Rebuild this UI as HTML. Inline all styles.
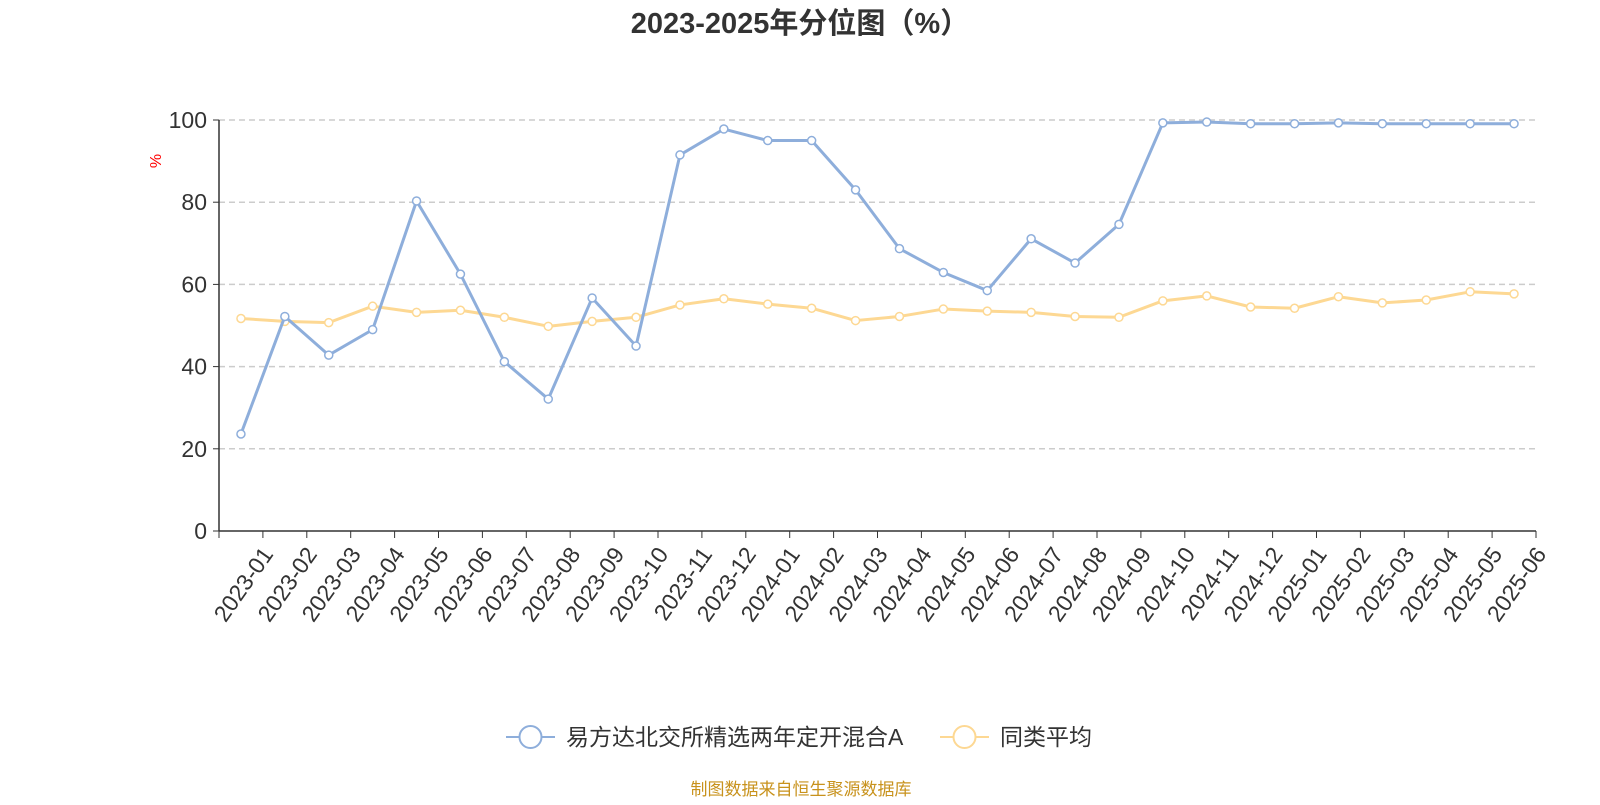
<!DOCTYPE html>
<html><head><meta charset="utf-8"><style>
body{margin:0;background:#fff;font-family:"Liberation Sans","Noto Sans CJK SC",sans-serif}
</style></head><body>
<svg id="c" width="1600" height="800" xmlns="http://www.w3.org/2000/svg"></svg>
<script>
const categories=["2023-01","2023-02","2023-03","2023-04","2023-05","2023-06","2023-07","2023-08","2023-09","2023-10","2023-11","2023-12","2024-01","2024-02","2024-03","2024-04","2024-05","2024-06","2024-07","2024-08","2024-09","2024-10","2024-11","2024-12","2025-01","2025-02","2025-03","2025-04","2025-05","2025-06"];
const fundValues=[23.6,52.2,42.8,49,80.3,62.5,41.2,32.1,56.7,45,91.5,97.8,95,95,83,68.7,62.9,58.5,71.1,65.2,74.6,99.3,99.5,99.1,99.1,99.3,99.1,99.1,99.1,99.1];
const avgValues=[51.7,51,50.7,54.7,53.2,53.7,52,49.8,51,52,55,56.5,55.2,54.2,51.2,52.2,54,53.5,53.2,52.2,52,56,57.2,54.5,54.2,57,55.5,56.2,58.2,57.7];
const yTicks=[0,20,40,60,80,100];
const NS="http://www.w3.org/2000/svg",svg=document.getElementById('c');
const L=219,R=1536,T=120,B=531,bw=(R-L)/categories.length;
const xs=i=>L+bw*(i+0.5), ys=v=>B-(B-T)*v/100;
function el(t,a,txt){const e=document.createElementNS(NS,t);for(const k in a)e.setAttribute(k,a[k]);if(txt!=null)e.textContent=txt;svg.appendChild(e);return e;}
let e=el('text',{x:800,y:33,'text-anchor':'middle','font-size':29,'font-weight':'bold',fill:'#333'},'2023-2025年分位图（%）');

e=el('text',{x:161,y:161,'text-anchor':'middle','font-size':16,fill:'red',transform:'rotate(-90 161 161)'},'%');

yTicks.forEach(v=>{const y=ys(v);
 if(v>0){e=el('line',{x1:L,x2:R,y1:y,y2:y,stroke:'#ccc','stroke-dasharray':'6,4','stroke-width':1.5});}
 e=el('line',{x1:L-6,x2:L,y1:y,y2:y,stroke:'#333'});
 e=el('text',{x:L-12,y:y+8,'text-anchor':'end','font-size':23,fill:'#333'},v);});
e=el('line',{x1:L,x2:L,y1:T,y2:B,stroke:'#333','stroke-width':1.5});
e=el('line',{x1:L,x2:R,y1:B,y2:B,stroke:'#333','stroke-width':1.5});
for(let i=0;i<=categories.length;i++){e=el('line',{x1:L+bw*i,x2:L+bw*i,y1:B,y2:B+7,stroke:'#333'});}
categories.forEach((c,i)=>{const x=L+bw*(i+1)-2,y=B+14;
 e=el('text',{x:x,y:y,'text-anchor':'end','font-size':23,fill:'#333',transform:`rotate(-55 ${x} ${y})`,dy:'0.7em'},c);
 });
function series(vals,color,name){
 e=el('polyline',{points:vals.map((v,i)=>xs(i)+','+ys(v)).join(' '),fill:'none',stroke:color,'stroke-width':3,'stroke-linejoin':'round'});
 
 vals.forEach((v,i)=>{e=el('circle',{cx:xs(i),cy:ys(v),r:4,fill:'#fff',stroke:color,'stroke-width':1.5});});}
series(avgValues,'#fdd893','average');
series(fundValues,'#8eaedb','fund');
function legend(x,color,label,name){
 e=el('line',{x1:x,x2:x+49,y1:737,y2:737,stroke:color,'stroke-width':2});
 e=el('circle',{cx:x+24.5,cy:737,r:11,fill:'#fff',stroke:color,'stroke-width':2});
 e=el('text',{x:x+60,y:745,'font-size':23,fill:'#333'},label);}
legend(506,'#8eaedb','易方达北交所精选两年定开混合A','fund');
legend(940,'#fdd893','同类平均','average');
e=el('text',{x:801,y:795,'text-anchor':'middle','font-size':17,fill:'#c8921c'},'制图数据来自恒生聚源数据库');

</script></body></html>
